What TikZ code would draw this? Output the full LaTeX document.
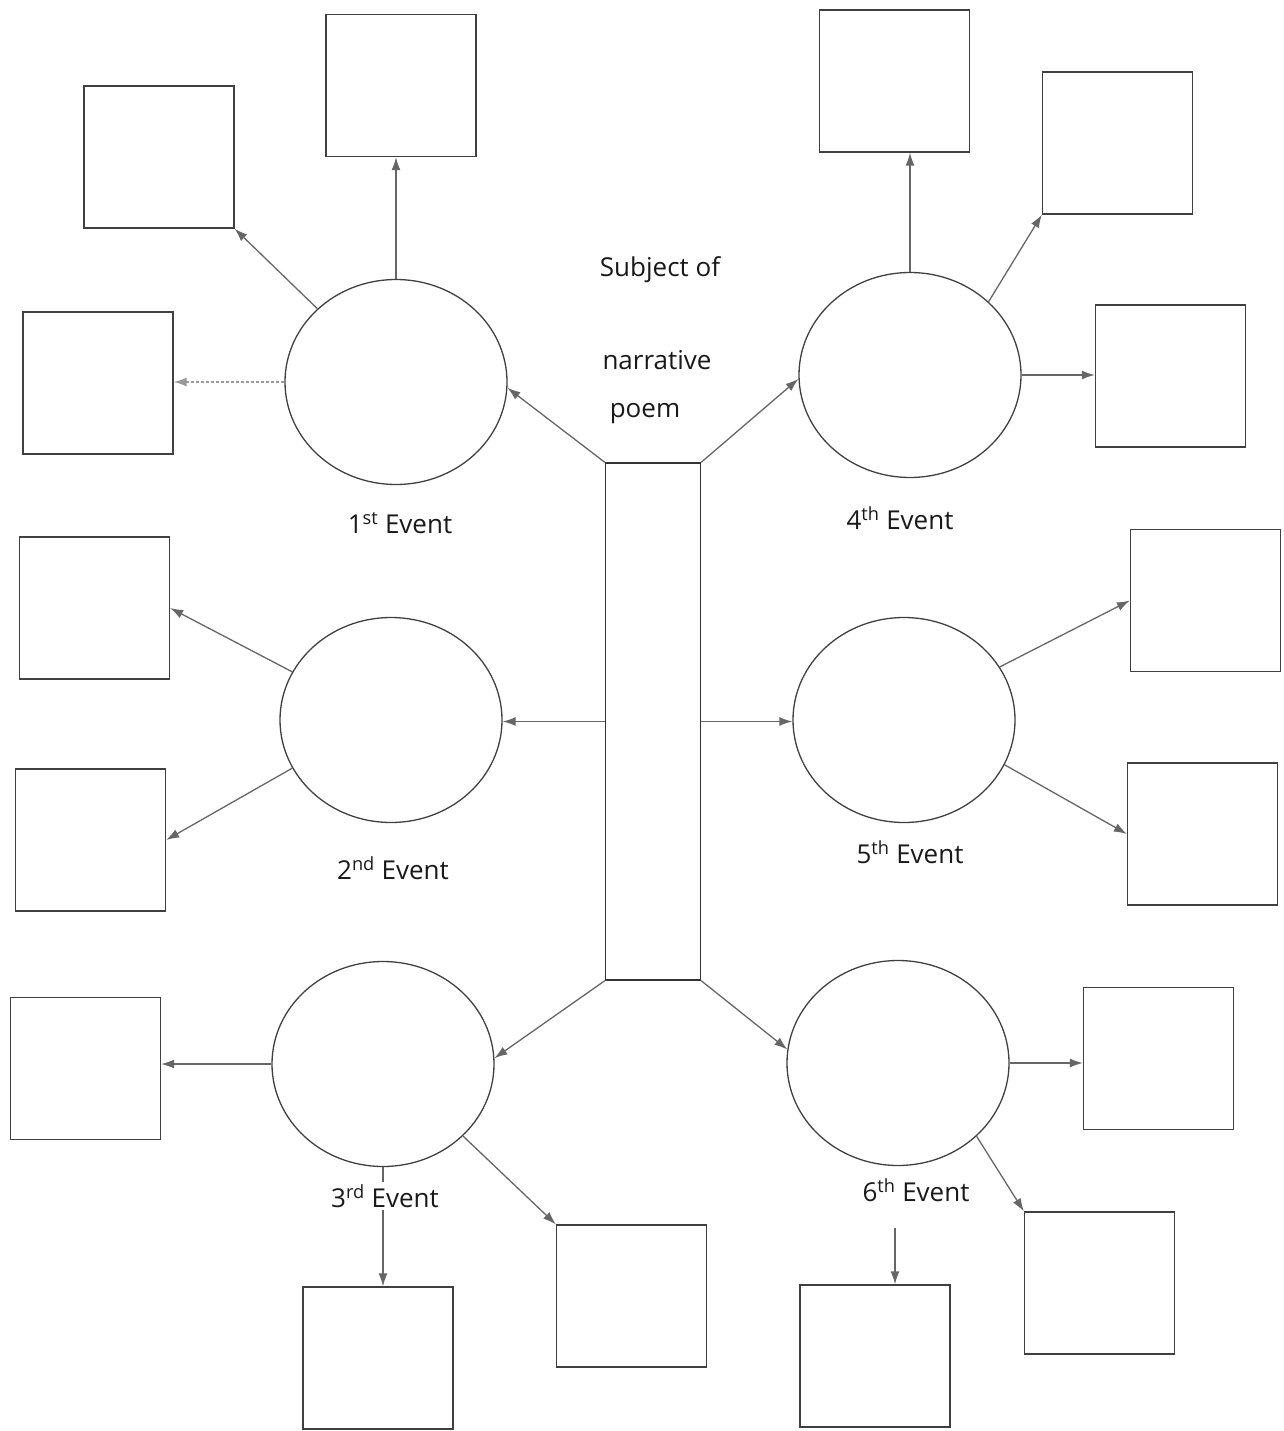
\documentclass[tikz,border=0pt]{standalone}
\usepackage{fontspec}
\setmainfont{Open Sans}
\usetikzlibrary{shapes.geometric,arrows.meta}
\begin{document}
\begin{tikzpicture}[x=1pt,y=-1pt,
  card/.style={draw=black!75,line width=1.3pt,minimum width=150pt,minimum height=142pt,inner sep=0pt},
  event/.style={draw=black!75,line width=1.3pt,ellipse,minimum width=222pt,minimum height=205pt,inner sep=0pt},
  link/.style={draw=black!60,line width=1.3pt,-{Latex[length=13pt,width=9pt]}},
  tag/.style={font=\fontsize{26}{30}\selectfont,text=black!90,inner sep=2pt}]
  \useasboundingbox (0,0) rectangle (1283,1431);
  \node[draw=black!80,line width=1.4pt,minimum width=95pt,minimum height=517pt,inner sep=0pt] (spine) at (653,721.5) {};
  \node[tag] (subj) at (660,270) {Subject of};
  \node[tag] (narr) at (657,360) {narrative};
  \node[tag] (poem) at (645,414) {poem};
  \node[event] (e1) at (396,382) {};
  \node[event] (e2) at (391,720) {};
  \node[event] (e3) at (383,1064) {};
  \node[event] (e4) at (910,375) {};
  \node[event] (e5) at (904,720) {};
  \node[event] (e6) at (898,1063) {};
  \node[card] (b1a) at (401,85.5) {};
  \node[card] (b1b) at (159,157) {};
  \node[card] (b1c) at (98,383) {};
  \node[card] (b4a) at (894.5,81) {};
  \node[card] (b4b) at (1117.5,143) {};
  \node[card] (b4c) at (1170.5,376) {};
  \node[card] (b2a) at (94.5,608) {};
  \node[card] (b2b) at (90.5,840) {};
  \node[card] (b5a) at (1205.5,600.5) {};
  \node[card] (b5b) at (1202.5,834) {};
  \node[card] (b3a) at (85.5,1068.5) {};
  \node[card] (b3b) at (378,1358) {};
  \node[card] (b3c) at (631.5,1296) {};
  \node[card] (b6a) at (1158.5,1058.5) {};
  \node[card] (b6b) at (1099.5,1283) {};
  \node[card] (b6c) at (875,1356) {};
  \coordinate (c6) at (895,1228);

  \draw[link] (spine.north west) -- (e1.-3);
  \draw[link] (spine.north east) -- (e4.182);
  \draw[link] (spine.west) -- (spine.west -| e2.east);
  \draw[link] (spine.east) -- (spine.east -| e5.west);
  \draw[link] (spine.south west) -- (e3.3);
  \draw[link] (spine.south east) -- (e6.173);

  \draw[link] (e1.north) -- (e1.north |- b1a.south);
  \draw[link] (e1.137) -- (b1b.south east);
  \draw[link,draw=black!40,densely dashed] (e1.west) -- (e1.west -| b1c.east);
  \draw[link] (e4.north) -- (e4.north |- b4a.south);
  \draw[link] (e4.43) -- (b4b.south west);
  \draw[link] (e4.east) -- (e4.east -| b4c.west);
  \draw[link] (e2.154) -- (b2a.east);
  \draw[link] (e2.206) -- (b2b.east);
  \draw[link] (e5.29) -- (b5a.west);
  \draw[link] (e5.-24) -- (b5b.west);
  \draw[link] (e3.west) -- (e3.west -| b3a.east);
  \draw[link] (e3.south) -- (e3.south |- b3b.north);
  \draw[link] (e3.-42) -- (b3c.north west);
  \draw[link] (e6.east) -- (e6.east -| b6a.west);
  \draw[link] (e6.-43) -- (b6b.north west);
  \draw[link] (c6) -- (c6 |- b6c.north);

  \node[tag,fill=white] (l1) at (400,523) {1\textsuperscript{st} Event};
  \node[tag,fill=white] (l2) at (393,868) {2\textsuperscript{nd} Event};
  \node[tag,fill=white] (l3) at (385,1196) {3\textsuperscript{rd} Event};
  \node[tag,fill=white] (l4) at (900,518) {4\textsuperscript{th} Event};
  \node[tag,fill=white] (l5) at (910,852) {5\textsuperscript{th} Event};
  \node[tag,fill=white] (l6) at (916,1190) {6\textsuperscript{th} Event};
\end{tikzpicture}
\end{document}
